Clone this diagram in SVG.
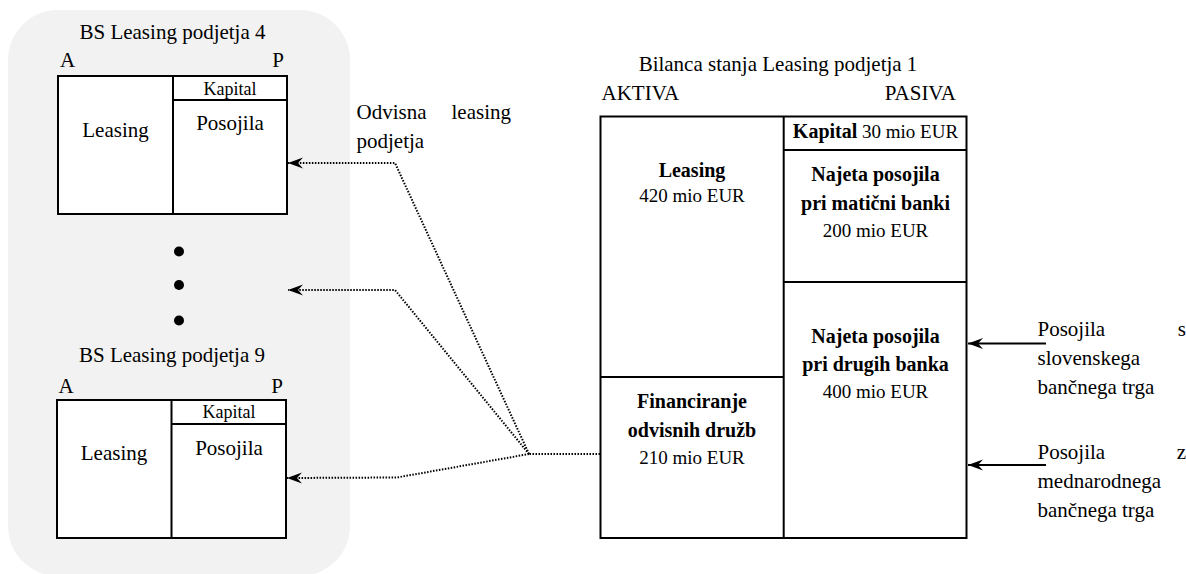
<svg xmlns="http://www.w3.org/2000/svg" width="1186" height="574" viewBox="0 0 1186 574" font-family="'Liberation Serif', 'DejaVu Serif', serif">
  <style>
    text { font-family: "Liberation Serif", "DejaVu Serif", serif; fill: #000; }
    .t { font-size: 21px; }
    .s { font-size: 18px; }
    .b { font-size: 20px; font-weight: bold; }
    .m { font-size: 19px; }
    .mid { text-anchor: middle; }
    .end { text-anchor: end; }
    .box { fill: #fff; stroke: #000; stroke-width: 2; }
    .ln { fill: none; stroke: #000; stroke-width: 2; }
    .dot { fill: none; stroke: #000; stroke-width: 2; stroke-dasharray: 1.5 1.5; }
    .solid { fill: none; stroke: #000; stroke-width: 2; }
  </style>
  <defs>
    <marker id="head" markerUnits="userSpaceOnUse" viewBox="-15 -6 16 12" markerWidth="16" markerHeight="12" refX="0" refY="0" orient="auto">
      <path d="M0,0 L-15,-5.5 L-10,0 L-15,5.5 Z" fill="#000"/>
    </marker>
  </defs>

  <!-- grey panel holding the subsidiaries -->
  <rect id="subsidiaries-panel" x="8" y="10" width="342" height="566" rx="50" ry="50" fill="#f2f2f2"/>

  <!-- balance sheet of subsidiary 4 -->
  <g id="bs4">
    <text class="t mid" x="172.5" y="39">BS Leasing podjetja 4</text>
    <text class="t" x="60" y="67">A</text>
    <text class="t end" x="284" y="67">P</text>
    <rect class="box" x="58" y="76" width="229" height="138"/>
    <line class="ln" x1="173" y1="76" x2="173" y2="214"/>
    <line class="ln" x1="173" y1="100" x2="287" y2="100"/>
    <text class="s mid" x="230" y="95">Kapital</text>
    <text class="t mid" x="115.5" y="137">Leasing</text>
    <text class="t mid" x="230" y="130">Posojila</text>
  </g>

  <!-- ellipsis between subsidiaries -->
  <g id="ellipsis">
    <circle cx="179" cy="251.5" r="5"/>
    <circle cx="179" cy="285" r="5"/>
    <circle cx="179" cy="320.5" r="5"/>
  </g>

  <!-- balance sheet of subsidiary 9 -->
  <g id="bs9">
    <text class="t mid" x="172" y="362">BS Leasing podjetja 9</text>
    <text class="t" x="58.5" y="393">A</text>
    <text class="t end" x="283" y="393">P</text>
    <rect class="box" x="57" y="400" width="229" height="138"/>
    <line class="ln" x1="171.5" y1="400" x2="171.5" y2="538"/>
    <line class="ln" x1="171.5" y1="424" x2="286" y2="424"/>
    <text class="s mid" x="229" y="417.5">Kapital</text>
    <text class="t mid" x="114" y="460">Leasing</text>
    <text class="t mid" x="229" y="455">Posojila</text>
  </g>

  <!-- label for the dotted links -->
  <g id="label-subsidiaries">
    <text class="t" x="356.5" y="119">Odvisna</text>
    <text class="t end" x="511" y="119">leasing</text>
    <text class="t" x="356.5" y="148">podjetja</text>
  </g>

  <!-- balance sheet of the parent leasing company -->
  <g id="bs1">
    <text class="t mid" x="778" y="71">Bilanca stanja Leasing podjetja 1</text>
    <text class="t" x="601.5" y="100">AKTIVA</text>
    <text class="t end" x="956" y="100">PASIVA</text>
    <rect class="box" x="600.5" y="116.5" width="366" height="421.5"/>
    <line class="ln" x1="783.7" y1="116.5" x2="783.7" y2="538"/>
    <line class="ln" x1="600.5" y1="377" x2="783.7" y2="377"/>
    <line class="ln" x1="783.7" y1="150" x2="966.5" y2="150"/>
    <line class="ln" x1="783.7" y1="282" x2="966.5" y2="282"/>

    <text class="m mid" x="875.5" y="138"><tspan class="b" font-size="19">Kapital</tspan> 30 mio EUR</text>

    <text class="b mid" x="692" y="177">Leasing</text>
    <text class="m mid" x="692" y="201.5">420 mio EUR</text>

    <text class="b mid" x="875.5" y="181">Najeta posojila</text>
    <text class="b mid" x="875.5" y="210">pri matični banki</text>
    <text class="m mid" x="875.5" y="236.5">200 mio EUR</text>

    <text class="b mid" x="875.5" y="342.5">Najeta posojila</text>
    <text class="b mid" x="875.5" y="370.5">pri drugih banka</text>
    <text class="m mid" x="875.5" y="397.5">400 mio EUR</text>

    <text class="b mid" x="692" y="408">Financiranje</text>
    <text class="b mid" x="692" y="436.5">odvisnih družb</text>
    <text class="m mid" x="692" y="464">210 mio EUR</text>
  </g>

  <!-- external funding sources -->
  <g id="src-domestic">
    <text class="t" x="1037.5" y="336">Posojila</text>
    <text class="t end" x="1186" y="336">s</text>
    <text class="t" x="1037.5" y="365">slovenskega</text>
    <text class="t" x="1037.5" y="394">bančnega trga</text>
  </g>
  <g id="src-international">
    <text class="t" x="1037.5" y="459">Posojila</text>
    <text class="t end" x="1186" y="459">z</text>
    <text class="t" x="1037.5" y="488">mednarodnega</text>
    <text class="t" x="1037.5" y="517">bančnega trga</text>
  </g>

  <!-- connectors -->
  <g id="connectors">
    <line class="dot" x1="600" y1="454" x2="529" y2="454"/>
    <polyline class="dot" points="529,454 395,163 288,163" marker-end="url(#head)"/>
    <polyline class="dot" points="529,454 395,290 288,290" marker-end="url(#head)"/>
    <polyline class="dot" points="529,454 397,477.5 287,478" marker-end="url(#head)"/>
    <line class="solid" x1="1046" y1="343.5" x2="968" y2="343.5" marker-end="url(#head)"/>
    <line class="solid" x1="1046" y1="465" x2="968" y2="465" marker-end="url(#head)"/>
  </g>
</svg>
